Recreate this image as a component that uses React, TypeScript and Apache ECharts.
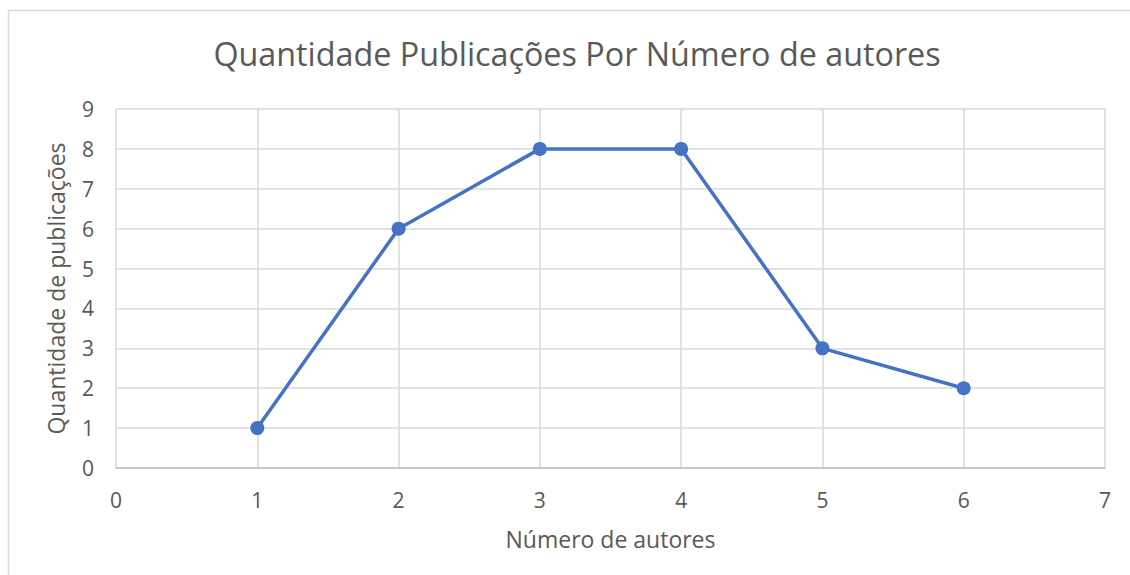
import React, { useEffect, useRef } from "react";
import * as echarts from "echarts";

const authors = [1, 2, 3, 4, 5, 6];
const publications = [1, 6, 8, 8, 3, 2];
const titleText = "Quantidade Publicações Por Número de autores";
const xName = "Número de autores";
const yName = "Quantidade de publicações";

export default function App() {
  const ref = useRef<HTMLDivElement>(null);
  useEffect(() => {
    if (!ref.current) return;
    const chart = echarts.init(ref.current, undefined, { renderer: "svg" });
    const font = "'Open Sans', sans-serif";
    const grey = "#595959";
    chart.setOption({
      animation: false,
      backgroundColor: "#ffffff",
      textStyle: { fontFamily: font },
      title: {
        text: titleText,
        left: 572,
        top: 32,
        textAlign: "center",
        textStyle: { fontFamily: font, fontSize: 32.3, fontWeight: "normal", color: grey },
      },
      graphic: [
        {
          type: "rect",
          shape: { x: 8.5, y: 10.5, width: 1200, height: 700 },
          style: { fill: "none", stroke: "#d9d9d9", lineWidth: 1.5 },
          silent: true,
        },
      ],
      grid: { left: 116, right: 25, top: 109, bottom: 107, containLabel: false },
      xAxis: {
        type: "value",
        min: 0,
        max: 7,
        interval: 1,
        name: xName,
        nameLocation: "middle",
        nameGap: 59,
        nameTextStyle: { fontFamily: font, fontSize: 23, color: grey },
        axisLine: { show: true, lineStyle: { color: "#bfbfbf", width: 1.5 } },
        axisTick: { show: false },
        axisLabel: { fontFamily: font, fontSize: 21, color: grey, margin: 21 },
        splitLine: { show: true, lineStyle: { color: "#d9d9d9", width: 1.5 } },
      },
      yAxis: {
        type: "value",
        min: 0,
        max: 9,
        interval: 1,
        name: yName,
        nameLocation: "middle",
        nameGap: 49,
        nameTextStyle: { fontFamily: font, fontSize: 23, color: grey },
        axisLine: { show: false },
        axisTick: { show: false },
        axisLabel: { fontFamily: font, fontSize: 21, color: grey, margin: 22 },
        splitLine: { show: true, lineStyle: { color: "#d9d9d9", width: 1.5 } },
      },
      series: [
        {
          type: "line",
          data: authors.map((a, i) => [a, publications[i]]),
          symbol: "circle",
          symbolSize: 14,
          lineStyle: { color: "#4472C4", width: 3.5 },
          itemStyle: { color: "#4472C4" },
        },
      ],
    });
    return () => chart.dispose();
  }, []);
  return (
    <div
      ref={ref}
      style={{ position: "fixed", left: 0, top: 0, width: 1130, height: 575 }}
    />
  );
}
